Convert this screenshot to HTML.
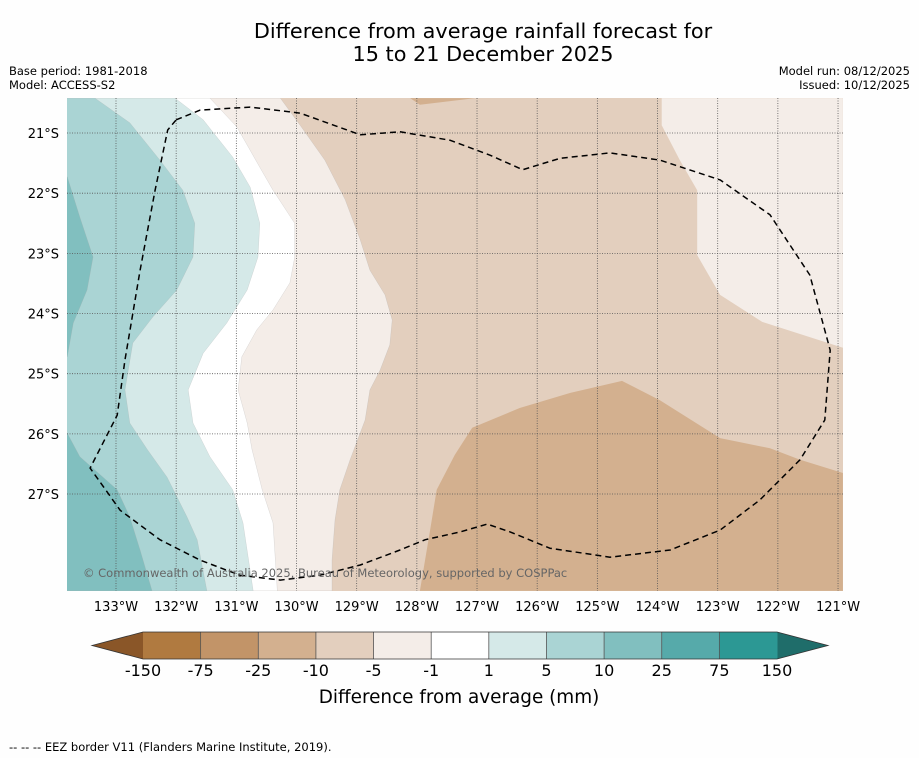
<!DOCTYPE html>
<html><head><meta charset="utf-8">
<style>
body{margin:0;background:#fff;width:919px;height:758px;overflow:hidden;font-family:"DejaVu Sans","Liberation Sans",sans-serif;}
svg{display:block}
</style></head>
<body>
<svg id="chart" width="919" height="758" viewBox="0 0 919 758" xmlns="http://www.w3.org/2000/svg" font-family="DejaVu Sans, Liberation Sans, sans-serif">
<rect width="919" height="758" fill="#fefefe"/>
<text x="483" y="38" text-anchor="middle" font-size="20.8" fill="#000">Difference from average rainfall forecast for</text>
<text x="483" y="61" text-anchor="middle" font-size="20.8" fill="#000">15 to 21 December 2025</text>
<text x="9" y="75" font-size="11.5">Base period: 1981-2018</text>
<text x="9" y="89" font-size="11.5">Model: ACCESS-S2</text>
<text x="910" y="75" font-size="11.5" text-anchor="end">Model run: 08/12/2025</text>
<text x="910" y="89" font-size="11.5" text-anchor="end">Issued: 10/12/2025</text>
<defs><clipPath id="mapclip"><rect x="67" y="98" width="776" height="493"/></clipPath></defs>
<g id="map" clip-path="url(#mapclip)"></g>
<g id="axes"></g>
<g id="cbar"></g>
<text x="459" y="703" text-anchor="middle" font-size="18.4">Difference from average (mm)</text>
<text x="9" y="751" font-size="11.5">--  --  -- EEZ border V11 (Flanders Marine Institute, 2019).</text>
</svg>
<script>
// ---- data ----
const lonTicks = [133,132,131,130,129,128,127,126,125,124,123,122,121];
const latTicks = [21,22,23,24,25,26,27];
const cbarLevels = ["-150","-75","-25","-10","-5","-1","1","5","10","25","75","150"];
const cbarColors = ["#b07a40","#c29468","#d3b08f","#e3cfbe","#f4ede8","#ffffff","#d5e9e8","#aad4d4","#81bfbf","#56aaaa","#2c9894"];
const cbarLowExt = "#8a5628";
const cbarHighExt = "#1f6d6a";
// contour boundaries as [lonW, latS] pairs
const bAlon=[130.27,129.94,129.53,129.19,128.94,128.78,128.53,128.41,128.45,128.61,128.78,128.86,129.11,129.28,129.36,129.41,129.41];
const bAlat=[20.42,20.87,21.45,22.11,22.78,23.28,23.69,24.11,24.52,24.94,25.27,25.77,26.43,26.93,27.43,28.1,28.61];
const bBlon=[131.44,130.99,130.61,130.39,130.03,130.03,130.11,130.39,130.66,130.91,130.97,130.82,130.74,130.57,130.39,130.32];
const bBlat=[20.42,20.9,21.57,21.95,22.5,23.06,23.49,23.94,24.27,24.72,25.27,25.82,26.26,26.93,27.48,28.61];
const bClon=[132.02,131.55,131.06,130.77,130.61,130.64,130.82,131.16,131.55,131.8,131.72,131.44,131.06,130.89,130.72];
const bClat=[20.42,20.78,21.4,21.9,22.5,23.06,23.61,24.16,24.66,25.27,25.82,26.38,26.93,27.48,28.61];
const bDlon=[133.35,132.77,132.27,131.89,131.69,131.72,131.99,132.39,132.72,132.85,132.77,132.48,132.15,131.82,131.65,131.49];
const bDlat=[20.42,20.83,21.45,21.95,22.5,23.06,23.61,24.06,24.49,25.27,25.82,26.26,26.72,27.38,27.76,28.61];
const bE1lon=[133.81,133.6,133.38,133.48,133.71,133.81];
const bE1lat=[21.73,22.4,23.06,23.61,24.16,24.72];
const bE2lon=[133.81,133.6,132.98,132.77,132.6,132.4];
const bE2lat=[25.99,26.38,26.93,27.38,27.93,28.61];
const pNElon=[123.93,123.93,123.63,123.34,123.34,122.96,122.26,120.92,120.92];
const pNElat=[20.42,20.87,21.45,21.95,23.03,23.69,24.14,24.57,20.42];
const pSElon=[127.95,127.78,127.67,127.37,127.08,126.29,125.45,124.59,123.96,122.96,122.13,121.63,120.92,120.92];
const pSElat=[28.61,27.6,26.93,26.35,25.9,25.57,25.32,25.12,25.44,26.07,26.24,26.43,26.65,28.61];
const pTopLon=[128.11,127.95,127.03];
const pTopLat=[20.42,20.53,20.42];
const eezLon=[132.0,131.6,130.77,129.94,128.94,128.28,127.45,126.78,126.24,125.62,124.79,123.96,122.96,122.13,121.47,121.13,121.22,121.63,122.3,122.96,123.79,124.79,125.79,126.45,126.83,127.28,127.86,128.28,128.94,129.61,130.27,130.94,131.6,132.27,132.93,133.43,132.98,132.85,132.6,132.35,132.14,132.0];
const eezLat=[20.78,20.62,20.57,20.67,21.03,20.98,21.12,21.37,21.61,21.42,21.33,21.45,21.78,22.36,23.36,24.61,25.77,26.43,27.1,27.6,27.93,28.05,27.9,27.63,27.5,27.63,27.76,27.93,28.18,28.35,28.43,28.35,28.1,27.76,27.27,26.57,25.69,24.77,23.28,21.95,20.95,20.78];

// ---- axis functions ----
const PX = 60.17;
function xs(lonW){return 116 + (133-lonW)*PX;}
function ys(latS){return 133 + (latS-21)*PX;}
const NS="http://www.w3.org/2000/svg";
function mk(tag,attrs,parent){const e=document.createElementNS(NS,tag);for(const k in attrs)e.setAttribute(k,attrs[k]);parent.appendChild(e);return e;}
const map=document.getElementById('map');
const LEFT=134.2;
function ptsStr(lons,lats){return lons.map((l,i)=>xs(l).toFixed(1)+','+ys(lats[i]).toFixed(1));}
function leftPoly(lons,lats,color,name){
  const p=ptsStr(lons,lats);
  p.push(xs(LEFT)+','+ys(lats[lats.length-1]));
  p.push(xs(LEFT)+','+ys(lats[0]));
  const el=mk('polygon',{points:p.join(' '),fill:color,stroke:'#aaa','stroke-width':0.4,'stroke-opacity':0.5},map);
  
  
}
function closedPoly(lons,lats,color,name){
  const el=mk('polygon',{points:ptsStr(lons,lats).join(' '),fill:color},map);
  
  
}
const bg=mk('rect',{x:67,y:98,width:776,height:493,fill:cbarColors[3]},map);


closedPoly(pNElon,pNElat,cbarColors[4],'region-ne-minus5-to-minus1');
closedPoly(pSElon,pSElat,cbarColors[2],'region-se-minus25-to-minus10');
closedPoly(pTopLon,pTopLat,cbarColors[2],'region-top-minus25-to-minus10');
leftPoly(bAlon,bAlat,cbarColors[4],'region-minus5-to-minus1');
leftPoly(bBlon,bBlat,cbarColors[5],'region-minus1-to-1');
leftPoly(bClon,bClat,cbarColors[6],'region-1-to-5');
leftPoly(bDlon,bDlat,cbarColors[7],'region-5-to-10');
leftPoly(bE1lon,bE1lat,cbarColors[8],'region-10-to-25-north');
leftPoly(bE2lon,bE2lat,cbarColors[8],'region-10-to-25-south');
lonTicks.forEach(l=>{const g=mk('line',{x1:xs(l),x2:xs(l),y1:98,y2:591,stroke:'#555','stroke-width':0.8,'stroke-dasharray':'1,1.5'},map);

});
latTicks.forEach(l=>{const g=mk('line',{x1:67,x2:843,y1:ys(l),y2:ys(l),stroke:'#555','stroke-width':0.8,'stroke-dasharray':'1,1.5'},map);

});
const ep=ptsStr(eezLon,eezLat);
const eez=mk('polyline',{points:ep.join(' '),fill:'none',stroke:'#000','stroke-width':1.5,'stroke-dasharray':'6,4','stroke-linejoin':'round'},map);


const cp=mk('text',{x:83,y:577,'font-size':11.5,fill:'#666'},map);
cp.textContent='© Commonwealth of Australia 2025, Bureau of Meteorology, supported by COSPPac';


const axes=document.getElementById('axes');
lonTicks.forEach(l=>{const t=mk('text',{x:xs(l),y:611,'text-anchor':'middle','font-size':13},axes);t.textContent=l+'°W';

});
latTicks.forEach(l=>{const t=mk('text',{x:59,y:ys(l)+5,'text-anchor':'end','font-size':13},axes);t.textContent=l+'°S';

});
const cb=document.getElementById('cbar');
const cx0=143,cx1=777,cy0=632,cy1=659,n=cbarColors.length,w=(cx1-cx0)/n;
function cbx(i){return cx0+i*w;}
const le=mk('polygon',{points:`92,${(cy0+cy1)/2} ${cx0},${cy0} ${cx0},${cy1}`,fill:cbarLowExt},cb);


const he=mk('polygon',{points:`828,${(cy0+cy1)/2} ${cx1},${cy0} ${cx1},${cy1}`,fill:cbarHighExt},cb);


cbarColors.forEach((c,i)=>{const r=mk('rect',{x:cbx(i),y:cy0,width:w+0.5,height:cy1-cy0,fill:c},cb);

});
for(let i=1;i<n;i++){mk('line',{x1:cbx(i),x2:cbx(i),y1:cy0,y2:cy1,stroke:'#555','stroke-width':0.8},cb);}
mk('polygon',{points:`92,${(cy0+cy1)/2} ${cx0},${cy0} ${cx1},${cy0} 828,${(cy0+cy1)/2} ${cx1},${cy1} ${cx0},${cy1}`,fill:'none',stroke:'#333','stroke-width':0.8},cb);
cbarLevels.forEach((s,i)=>{const t=mk('text',{x:cbx(i),y:676,'text-anchor':'middle','font-size':16},cb);t.textContent=s;

});
</script>
</body></html>
